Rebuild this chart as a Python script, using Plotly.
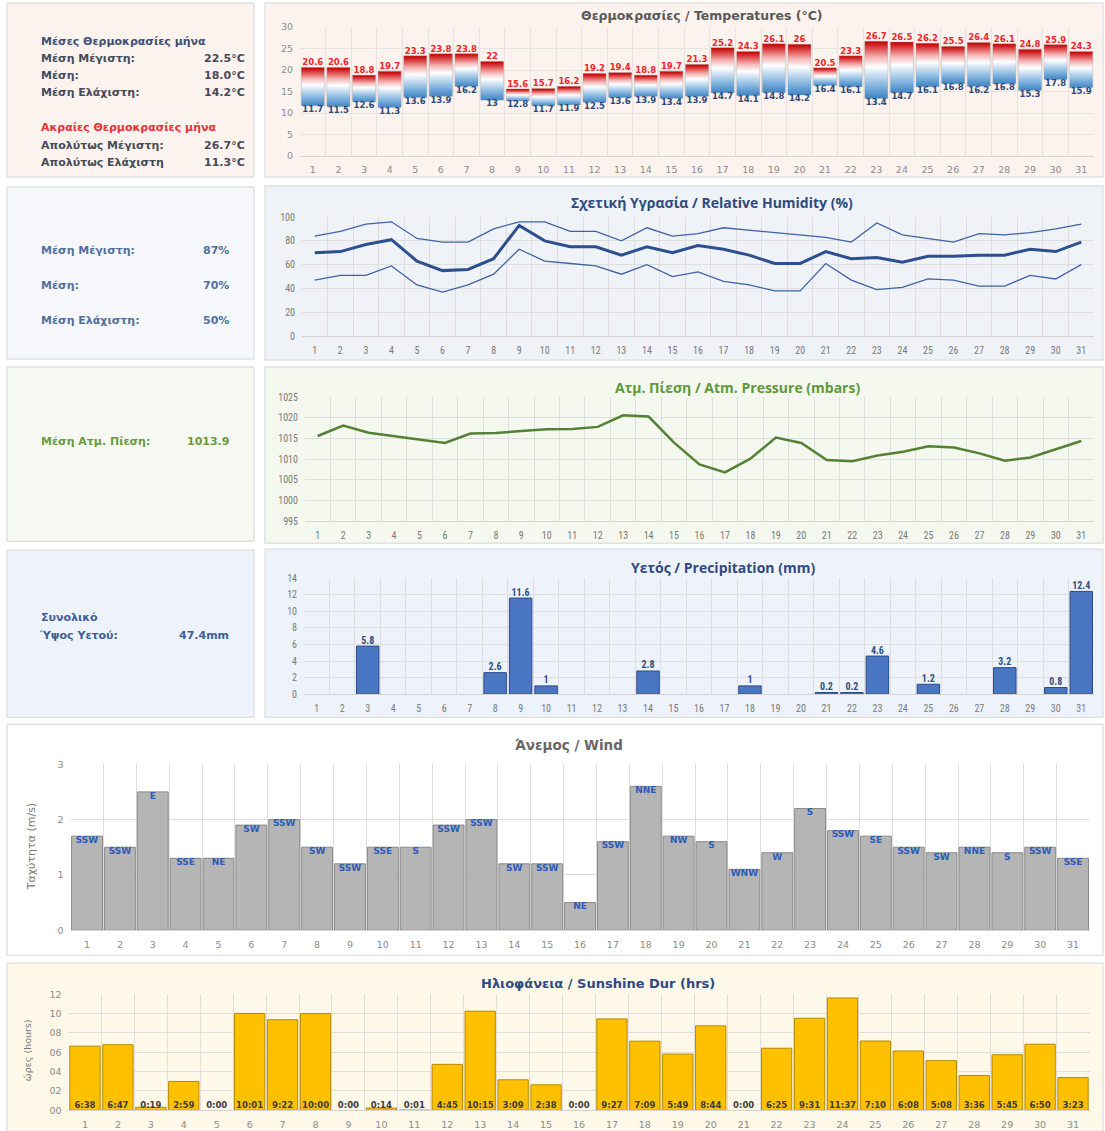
import plotly.graph_objects as go

W, H = 1105, 1131
# small vertical correction measured between the layout and the photographed page
Y_OFF, Y_SCALE = 6.0, 0.990

days = list(range(1, 32))
day_labels = [str(d) for d in days]

temp_max = [20.6, 20.6, 18.8, 19.7, 23.3, 23.8, 23.8, 22, 15.6, 15.7, 16.2, 19.2, 19.4, 18.8, 19.7,
            21.3, 25.2, 24.3, 26.1, 26, 20.5, 23.3, 26.7, 26.5, 26.2, 25.5, 26.4, 26.1, 24.8, 25.9, 24.3]
temp_min = [11.7, 11.5, 12.6, 11.3, 13.6, 13.9, 16.2, 13, 12.8, 11.7, 11.9, 12.5, 13.6, 13.9, 13.4,
            13.9, 14.7, 14.1, 14.8, 14.2, 16.4, 16.1, 13.4, 14.7, 16.1, 16.8, 16.2, 16.8, 15.3, 17.8, 15.9]

hum_max = [84, 88, 94, 96, 82, 79, 79, 90, 96, 96, 88, 88, 80, 91, 84, 86, 91, 89, 87, 85, 83, 79,
           95, 85, 82, 79, 86, 85, 87, 90, 94]
hum_mean = [70, 71, 77, 81, 63, 55, 56, 65, 93, 80, 75, 75, 68, 75, 70, 76, 73, 68, 61, 61, 71, 65,
            66, 62, 67, 67, 68, 68, 73, 71, 79]
hum_min = [47, 51, 51, 59, 43, 37, 43, 52, 73, 63, 61, 59, 52, 60, 50, 54, 46, 43, 38, 38, 61, 47,
           39, 41, 48, 47, 42, 42, 51, 48, 60]

pressure = [1015.6, 1018.1, 1016.4, 1015.6, 1014.8, 1013.9, 1016.2, 1016.3, 1016.8, 1017.2, 1017.3,
            1017.8, 1020.6, 1020.3, 1014.0, 1008.7, 1006.8, 1010.1, 1015.2, 1013.9, 1009.8, 1009.5,
            1010.9, 1011.8, 1013.1, 1012.8, 1011.4, 1009.6, 1010.4, 1012.4, 1014.4]

precip = [0, 0, 5.8, 0, 0, 0, 0, 2.6, 11.6, 1, 0, 0, 0, 2.8, 0, 0, 0, 1, 0, 0, 0.2, 0.2, 4.6, 0,
          1.2, 0, 0, 3.2, 0, 0.8, 12.4]

wind_speed = [1.7, 1.5, 2.5, 1.3, 1.3, 1.9, 2.0, 1.5, 1.2, 1.5, 1.5, 1.9, 2.0, 1.2, 1.2, 0.5, 1.6,
              2.6, 1.7, 1.6, 1.1, 1.4, 2.2, 1.8, 1.7, 1.5, 1.4, 1.5, 1.4, 1.5, 1.3]
wind_dir = ["SSW", "SSW", "E", "SSE", "NE", "SW", "SSW", "SW", "SSW", "SSE", "S", "SSW", "SSW", "SW",
            "SSW", "NE", "SSW", "NNE", "NW", "S", "WNW", "W", "S", "SSW", "SE", "SSW", "SW", "NNE",
            "S", "SSW", "SSE"]

sunshine_labels = ["6:38", "6:47", "0:19", "2:59", "0:00", "10:01", "9:22", "10:00", "0:00", "0:14",
                   "0:01", "4:45", "10:15", "3:09", "2:38", "0:00", "9:27", "7:09", "5:49", "8:44",
                   "0:00", "6:25", "9:31", "11:37", "7:10", "6:08", "5:08", "3:36", "5:45", "6:50", "3:23"]
sunshine_hours = [int(s.split(":")[0]) + int(s.split(":")[1]) / 60 for s in sunshine_labels]
sun_ticks = [0, 2, 4, 6, 8, 10, 12]
sun_ticktext = ["00", "02", "04", "06", "08", "10", "12"]


def fx(px):
    return px / W


def fy(py):
    return 1 - ((py - Y_OFF) / Y_SCALE) / H


def dom_x(a, b):
    return [fx(a), fx(b)]


def dom_y(top, bottom):
    return [max(0.0, fy(bottom)), min(1.0, fy(top))]


VERDANA = "DejaVu Sans"
NARROW = "Liberation Sans Narrow, Roboto Condensed, Roboto, sans-serif"
TITLE_F = "Open Sans"

fig = go.Figure()

# ---------- panels ----------
panels = [
    (7, 3, 254, 177, "#fdf3ee"),
    (265, 3, 1103, 177, "#fdf3ee"),
    (7, 187, 254, 359, "#f5f7fa"),
    (265, 186, 1103, 360, "#eff2f6"),
    (7, 367, 254, 541, "#f6f9f1"),
    (265, 367, 1103, 543, "#f4f8ef"),
    (7, 550, 254, 717, "#eef3fb"),
    (265, 549, 1103, 717, "#eef3fb"),
    (7, 724, 1103, 955, "#ffffff"),
    (7, 963, 1103, 1131, "#fdf8e8"),
]
for x0, y0, x1, y1, c in panels:
    fig.add_shape(type="rect", xref="paper", yref="paper", x0=fx(x0), x1=fx(x1), y0=fy(y1), y1=fy(y0),
                  fillcolor=c, line=dict(color="#e2e2e2", width=1.5), layer="below")

# ---------- temperature ----------
BAR_W = 0.9
temp_scale = [[0, "#3a80c2"], [0.22, "#7fb2de"], [0.45, "#d5e6f4"], [0.56, "#ffffff"],
              [0.72, "#f4b5b5"], [0.88, "#dc4a4a"], [1, "#c00000"]]
for d, lo, hi in zip(days, temp_min, temp_max):
    fig.add_trace(go.Scatter(
        x=[d - BAR_W / 2, d + BAR_W / 2, d + BAR_W / 2, d - BAR_W / 2, d - BAR_W / 2],
        y=[lo, lo, hi, hi, lo],
        mode="lines", fill="toself",
        line=dict(width=0.6, color="rgba(160,160,160,0.6)"),
        fillgradient=dict(type="vertical", colorscale=temp_scale, start=lo, stop=hi),
        xaxis="x", yaxis="y", hoverinfo="skip"))
fig.add_trace(go.Scatter(x=days, y=temp_max, mode="text",
                         text=[f"<b>{v:g}</b>" for v in temp_max], textposition="top center",
                         textfont=dict(color="#f0242a", size=8.5, family=VERDANA),
                         xaxis="x", yaxis="y", hoverinfo="skip"))
fig.add_trace(go.Scatter(x=days, y=temp_min, mode="text",
                         text=[f"<b>{v:g}</b>" for v in temp_min], textposition="bottom center",
                         textfont=dict(color="#2e4a7a", size=8.5, family=VERDANA),
                         xaxis="x", yaxis="y", hoverinfo="skip"))

# ---------- humidity ----------
fig.add_trace(go.Scatter(x=days, y=hum_max, mode="lines", line=dict(color="#3f62a8", width=1.3),
                         xaxis="x2", yaxis="y2"))
fig.add_trace(go.Scatter(x=days, y=hum_min, mode="lines", line=dict(color="#3f62a8", width=1.3),
                         xaxis="x2", yaxis="y2"))
fig.add_trace(go.Scatter(x=days, y=hum_mean, mode="lines", line=dict(color="#2c4f8f", width=3),
                         xaxis="x2", yaxis="y2"))

# ---------- pressure ----------
fig.add_trace(go.Scatter(x=days, y=pressure, mode="lines", line=dict(color="#548235", width=2.5),
                         xaxis="x3", yaxis="y3"))

# ---------- precipitation ----------
rain_days = [d for d, v in zip(days, precip) if v > 0]
rain_vals = [v for v in precip if v > 0]
fig.add_trace(go.Bar(x=rain_days, y=rain_vals, width=0.88,
                     marker=dict(color="#4a76c4", line=dict(color="#2b4a85", width=1)),
                     xaxis="x4", yaxis="y4", hoverinfo="skip"))
fig.add_trace(go.Scatter(x=rain_days, y=rain_vals, mode="text", text=[f"<b>{v:g}</b>" for v in rain_vals],
                         textposition="top center", textfont=dict(color="#2f4f80", size=10, family=NARROW),
                         xaxis="x4", yaxis="y4", hoverinfo="skip", cliponaxis=False))

# ---------- wind ----------
fig.add_trace(go.Bar(x=days, y=wind_speed, width=0.94,
                     marker=dict(color="#b5b5b5", line=dict(color="#8a8a8a", width=1)),
                     xaxis="x5", yaxis="y5", hoverinfo="skip"))
fig.add_trace(go.Scatter(x=days, y=wind_speed, mode="text", text=[f"<b>{t}</b>" for t in wind_dir],
                         textposition="bottom center", textfont=dict(color="#2e5cb8", size=9, family=VERDANA),
                         xaxis="x5", yaxis="y5", hoverinfo="skip"))

# ---------- sunshine ----------
fig.add_trace(go.Bar(x=days, y=sunshine_hours, width=0.92,
                     marker=dict(color="#ffc000",
                                 line=dict(color="#b58a00", width=[1 if v > 0 else 0 for v in sunshine_hours])),
                     xaxis="x6", yaxis="y6", hoverinfo="skip"))
fig.add_trace(go.Scatter(x=days, y=[0] * len(days), mode="text",
                         text=[f"<b>{t}</b>" for t in sunshine_labels], textposition="top center",
                         textfont=dict(color="#3b3b3b", size=8.5, family=VERDANA),
                         xaxis="x6", yaxis="y6", hoverinfo="skip"))


def xcfg(dom, anchor, font, grid="#dedede"):
    return dict(domain=dom, anchor=anchor, range=[0.5, 31.5], tickmode="array", tickvals=days,
                ticktext=day_labels, showgrid=False, zeroline=False, showline=True, linecolor="#d4d4d4",
                ticks="", tickfont=font, ticklabelstandoff=5, fixedrange=True,
                minor=dict(tickmode="array", tickvals=[k + 0.5 for k in range(0, 32)], showgrid=True,
                           gridcolor=grid, gridwidth=1, ticks=""))


def ycfg(dom, anchor, rng, dtick, font, grid="#dedede", **kw):
    d = dict(domain=dom, anchor=anchor, range=rng, dtick=dtick, showgrid=True, gridcolor=grid,
             zeroline=False, showline=False, ticks="", tickfont=font, ticklabelstandoff=6, fixedrange=True)
    d.update(kw)
    return d


f_verd = dict(family=VERDANA, size=9.5, color="#8c8c8c")
f_narrow = dict(family=NARROW, size=10, color="#7a7a7a")

fig.update_layout(
    xaxis=xcfg(dom_x(300, 1094), "y", f_verd, "#e6e3e0"),
    yaxis=ycfg(dom_y(27, 156), "x", [0, 30], 5, f_verd, "#e6e3e0"),
    xaxis2=xcfg(dom_x(302, 1094), "y2", f_narrow),
    yaxis2=ycfg(dom_y(217, 336), "x2", [0, 100], 20, f_narrow),
    xaxis3=xcfg(dom_x(305, 1094), "y3", f_narrow),
    yaxis3=ycfg(dom_y(397, 521), "x3", [995, 1025], 5, f_narrow),
    xaxis4=xcfg(dom_x(304, 1094), "y4", f_narrow),
    yaxis4=ycfg(dom_y(578, 694), "x4", [0, 14], 2, f_narrow),
    xaxis5=xcfg(dom_x(70.6, 1089.5), "y5", f_verd),
    yaxis5=ycfg(dom_y(764, 930), "x5", [0, 3], 1, f_verd),
    xaxis6=xcfg(dom_x(68.5, 1089.5), "y6", f_verd),
    yaxis6=ycfg(dom_y(994, 1110), "x6", [0, 12], None, f_verd, tickmode="array",
                tickvals=sun_ticks, ticktext=sun_ticktext),
    barmode="overlay",
    width=W, height=H, margin=dict(l=0, r=0, t=0, b=0),
    paper_bgcolor="white", plot_bgcolor="rgba(0,0,0,0)", showlegend=False,
)

ann = []


def add_text(x, y, text, color, size=11, anchor="left", family=VERDANA, angle=0):
    ann.append(dict(x=fx(x), y=fy(y), xref="paper", yref="paper", text=text, showarrow=False,
                    xanchor=anchor, yanchor="middle", textangle=angle,
                    font=dict(family=family, size=size, color=color)))


# chart titles
add_text(702, 15, "<b>Θερμοκρασίες / Temperatures (°C)</b>", "#595959", 12.5, "center")
add_text(712, 202, "<b>Σχετική Υγρασία / Relative Humidity (%)</b>", "#2f4a7f", 14, "center", TITLE_F)
add_text(737, 387, "<b>Ατμ. Πίεση / Atm. Pressure (mbars)</b>", "#5e9a3a", 14, "center", TITLE_F)
add_text(723, 567, "<b>Υετός / Precipitation (mm)</b>", "#2f4a7f", 14, "center", TITLE_F)
add_text(569, 745, "<b>Άνεμος / Wind</b>", "#666666", 13.5, "center")
add_text(598, 983, "<b>Ηλιοφάνεια / Sunshine Dur (hrs)</b>", "#2f4a7f", 13, "center")

# y axis titles
add_text(31, 847, "Ταχύτητα (m/s)", "#7a7a7a", 11, "center", VERDANA, -90)
add_text(27, 1050, "ώρες (hours)", "#7a7a7a", 9.5, "center", VERDANA, -90)

# temperature side panel
c_head = "#3f4f72"
c_row = "#444b5a"
FS = 11
add_text(39, 41, "<b>Μέσες Θερμοκρασίες μήνα</b>", c_head, FS)
rows_t = [("Μέση Μέγιστη:", "22.5", 58), ("Μέση:", "18.0", 75), ("Μέση Ελάχιστη:", "14.2", 92)]
for lab, val, y in rows_t:
    add_text(39, y, f"<b>{lab}</b>", c_row, FS)
    add_text(247, y, f"<b>{val}°C</b>", c_row, FS, "right")
add_text(39, 127, "<b>Ακραίες Θερμοκρασίες μήνα</b>", "#e3343a", FS)
rows_e = [("Απολύτως Μέγιστη:", "26.7", 145), ("Απολύτως Ελάχιστη", "11.3", 162)]
for lab, val, y in rows_e:
    add_text(39, y, f"<b>{lab}</b>", c_row, FS)
    add_text(247, y, f"<b>{val}°C</b>", c_row, FS, "right")

# humidity side panel
c_h = "#52709e"
for lab, val, y in [("Μέση Μέγιστη:", "87%", 250), ("Μέση:", "70%", 285), ("Μέση Ελάχιστη:", "50%", 320)]:
    add_text(39, y, f"<b>{lab}</b>", c_h, FS)
    add_text(231, y, f"<b>{val}</b>", c_h, FS, "right")

# pressure side panel
add_text(39, 441, "<b>Μέση Ατμ. Πίεση:</b>", "#6b9a3e", FS)
add_text(231, 441, "<b>1013.9</b>", "#6b9a3e", FS, "right")

# precipitation side panel
add_text(39, 617, "<b>Συνολικό</b>", "#3e5f98", FS)
add_text(37, 635, "<b>Ύψος Υετού:</b>", "#3e5f98", FS)
add_text(231, 635, "<b>47.4mm</b>", "#3e5f98", FS, "right")

fig.update_layout(annotations=ann)

fig.write_html("out.html", config={"displayModeBar": False},
               post_script="document.body.style.margin='0';document.body.style.overflow='hidden';"
                           "document.documentElement.style.overflow='hidden';")
